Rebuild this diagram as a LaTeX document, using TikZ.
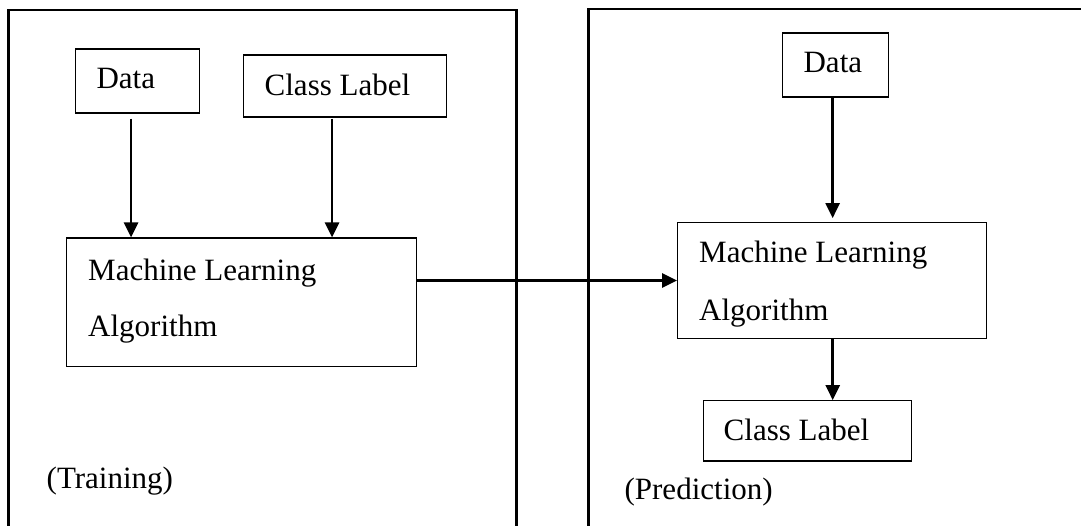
\documentclass[tikz,border=0pt]{standalone}
\usepackage{fontspec}
\setmainfont{Liberation Serif}
\usetikzlibrary{arrows.meta}
\begin{document}
\begin{tikzpicture}[x=1pt,y=-1pt,
  box/.style={draw=black, line width=1.2pt, rectangle, inner sep=0pt},
  outer/.style={draw=black, line width=2.2pt},
  arr/.style={line width=2.6pt, -{Triangle[length=15pt,width=14pt]}},
  txt/.style={anchor=base west, inner sep=0pt, font=\fontsize{31}{37}\selectfont}]
\useasboundingbox (0,0) rectangle (1081,525);
\clip (0,0) rectangle (1081,525);
% outer panels
\draw[outer] (8.5,10) rectangle (516.5,540);
\draw[outer] (588.5,9) rectangle (1100,540);
% training boxes
\node[box, minimum width=123.9pt, minimum height=64pt] (dataL) at (137.75,81) {};
\node[box, minimum width=202.5pt, minimum height=62pt] (clsL) at (345.05,86) {};
\node[box, minimum width=350.2pt, minimum height=128.7pt] (mlL) at (241.6,302.35) {};
% prediction boxes
\node[box, minimum width=105.7pt, minimum height=64pt] (dataR) at (835.65,65) {};
\node[box, minimum width=308.6pt, minimum height=115.6pt] (mlR) at (832,280.5) {};
\node[box, minimum width=208pt, minimum height=60.3pt] (clsR) at (807.2,430.85) {};
% texts
\node[txt] (tDataL) at (96.4,88) {Data};
\node[txt] (tClsL) at (264.5,95) {Class Label};
\node[txt] (tMlL1) at (88,280) {Machine Learning};
\node[txt] (tMlL2) at (88,336.7) {Algorithm};
\node[txt] (tTrain) at (46.5,488.3) {(Training)};
\node[txt] (tDataR) at (803.4,72.7) {Data};
\node[txt] (tMlR1) at (699,262) {Machine Learning};
\node[txt] (tMlR2) at (699,320) {Algorithm};
\node[txt] (tClsR) at (723.5,440) {Class Label};
\node[txt] (tPred) at (624.4,499) {(Prediction)};
% connectors
\draw[arr] ([xshift=-6.7pt,yshift=-5pt]dataL.south) -- ([xshift=-6.7pt]dataL.south |- mlL.north);
\draw[arr] ([xshift=-13pt,yshift=-1pt]clsL.south) -- ([xshift=-13pt]clsL.south |- mlL.north);
\draw[arr] ([xshift=-3pt]dataR.south) -- ([xshift=-3pt,yshift=4pt]dataR.south |- mlR.north);
\draw[arr] ([xshift=0.7pt]mlR.south) -- ([xshift=0.7pt]mlR.south |- clsR.north);
\draw[arr] (mlL.east |- mlR.west) -- (mlR.west);
\end{tikzpicture}
\end{document}
